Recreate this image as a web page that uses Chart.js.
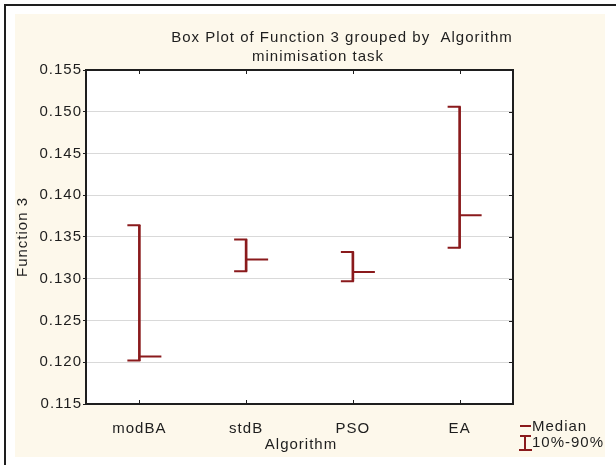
<!DOCTYPE html>
<html>
<head>
<meta charset="utf-8">
<script src="https://cdn.jsdelivr.net/npm/chart.js@4.4.1/dist/chart.umd.min.js"></script>
<style>
  html, body { margin: 0; padding: 0; background: #fff; }
  canvas { display: block; }
</style>
</head>
<body>
<canvas id="boxPlot" width="616" height="465"></canvas>
<script>
const algoritmos = ['modBA', 'stdB', 'PSO', 'EA'];
const p10 = [0.1202, 0.1309, 0.1297, 0.1337];
const p90 = [0.1364, 0.1347, 0.1332, 0.1506];
const mediana = [0.1207, 0.1323, 0.1308, 0.1376];
const yMin = 0.115;
const yMax = 0.155;
const yStep = 0.005;

const ROJO = '#8a1a1c';
const CREMA = '#fdf8eb';
const TINTA = '#1e1e1e';
const FUENTE = '"Liberation Sans", Arial, sans-serif';

const marco = {
    id: 'marco',
    beforeDraw(chart) {
        const { ctx, chartArea: a, width, height } = chart;
        ctx.save();
        ctx.fillStyle = '#ffffff';
        ctx.fillRect(0, 0, width, height);
        ctx.fillStyle = CREMA;
        ctx.fillRect(15, 14, 590, 443);
        ctx.fillStyle = TINTA;
        ctx.fillRect(4, 4, width - 4, 2);
        ctx.fillRect(4, 4, 2, height - 4);
        ctx.fillStyle = '#ffffff';
        ctx.fillRect(a.left, a.top, a.right - a.left, a.bottom - a.top);
        ctx.restore();
        ctx.letterSpacing = '1px';
    },
    afterDraw(chart) {
        const { ctx, chartArea: a } = chart;
        const x = chart.scales.x;
        const y = chart.scales.y;
        ctx.save();
        ctx.letterSpacing = '1px';

        // bigotes: tapas a la izquierda, mediana a la derecha
        ctx.strokeStyle = ROJO;
        ctx.lineWidth = 2;
        algoritmos.forEach((_, i) => {
            const cx = x.getPixelForValue(i);
            const yb = y.getPixelForValue(p10[i]);
            const yt = y.getPixelForValue(p90[i]);
            const ym = y.getPixelForValue(mediana[i]);
            ctx.beginPath();
            ctx.moveTo(cx - 12, yt); ctx.lineTo(cx + 1, yt);
            ctx.moveTo(cx - 12, yb); ctx.lineTo(cx + 1, yb);
            ctx.moveTo(cx, ym); ctx.lineTo(cx + 22, ym);
            ctx.stroke();
        });

        // borde y marcas interiores
        ctx.strokeStyle = TINTA;
        ctx.lineWidth = 2;
        ctx.strokeRect(a.left, a.top, a.right - a.left, a.bottom - a.top);
        ctx.beginPath();
        algoritmos.forEach((_, i) => {
            const cx = Math.round(x.getPixelForValue(i)) + 0.5;
            ctx.moveTo(cx, a.top); ctx.lineTo(cx, a.top + 4);
            ctx.moveTo(cx, a.bottom); ctx.lineTo(cx, a.bottom - 4);
        });
        y.ticks.forEach(t => {
            const py = Math.round(y.getPixelForValue(t.value)) + 0.5;
            ctx.moveTo(a.right, py); ctx.lineTo(a.right - 4, py);
        });
        ctx.lineWidth = 1;
        ctx.stroke();

        // titulos
        ctx.fillStyle = TINTA;
        ctx.font = '15px ' + FUENTE;
        ctx.textAlign = 'center';
        ctx.textBaseline = 'alphabetic';
        ctx.fillText('Box Plot of Function 3 grouped by  Algorithm', 342, 42);
        ctx.fillText('minimisation task', 318, 61);
        ctx.fillText('Algorithm', 301, 449);
        ctx.save();
        ctx.translate(27, (a.top + a.bottom) / 2);
        ctx.rotate(-Math.PI / 2);
        ctx.fillText('Function 3', 0, 0);
        ctx.restore();

        // leyenda
        ctx.textAlign = 'left';
        ctx.fillText('Median', 532, 431);
        ctx.fillText('10%-90%', 532, 447);
        ctx.strokeStyle = ROJO;
        ctx.lineWidth = 2;
        ctx.beginPath();
        ctx.moveTo(520, 426); ctx.lineTo(531, 426);
        ctx.moveTo(520, 436); ctx.lineTo(531, 436);
        ctx.moveTo(525, 436); ctx.lineTo(525, 450);
        ctx.moveTo(519, 450); ctx.lineTo(532, 450);
        ctx.stroke();
        ctx.restore();
    }
};

new Chart(document.getElementById('boxPlot'), {
    type: 'bar',
    data: {
        labels: algoritmos,
        datasets: [{
            data: algoritmos.map((_, i) => [p10[i], p90[i]]),
            backgroundColor: ROJO,
            borderWidth: 0,
            barThickness: 2
        }]
    },
    options: {
        responsive: false,
        animation: false,
        devicePixelRatio: 1,
        layout: { padding: { left: 0, top: 70, right: 103, bottom: 0 } },
        plugins: {
            legend: { display: false },
            tooltip: { enabled: false },
            title: { display: false }
        },
        scales: {
            x: {
                offset: true,
                grid: { display: false },
                border: { display: false },
                ticks: { color: TINTA, padding: 8, font: { family: FUENTE, size: 15 } },
                afterFit: s => { s.height = 61; }
            },
            y: {
                min: yMin,
                max: yMax,
                border: { display: false },
                grid: { color: '#d9d9d9', lineWidth: 1, tickLength: 3, tickColor: TINTA },
                ticks: {
                    stepSize: yStep,
                    color: TINTA,
                    padding: 1,
                    font: { family: FUENTE, size: 15 },
                    callback: v => v.toFixed(3)
                },
                afterFit: s => { s.width = 86; }
            }
        }
    },
    plugins: [marco]
});
</script>
</body>
</html>
